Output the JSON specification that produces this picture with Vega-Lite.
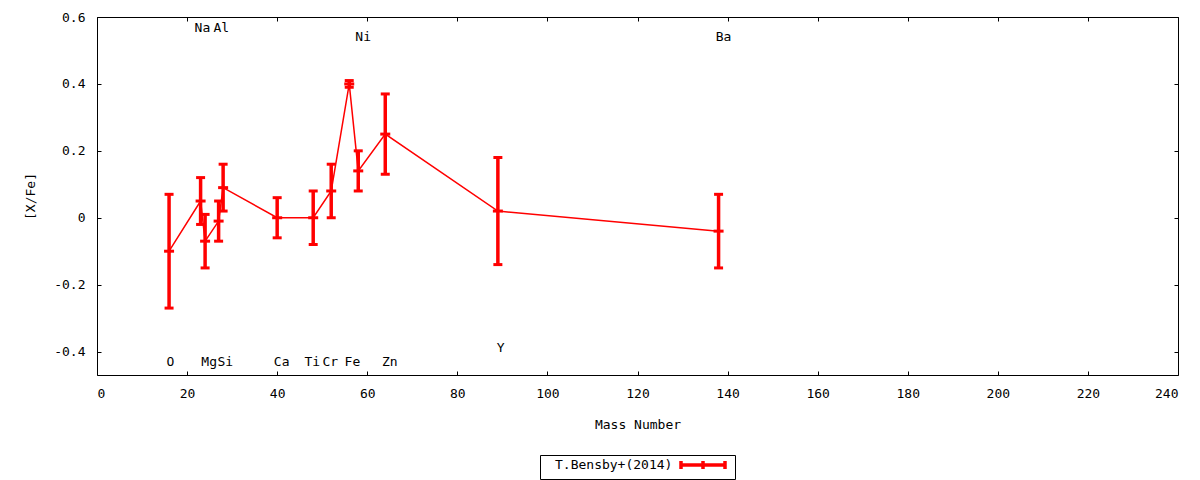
{
  "$schema": "https://vega.github.io/schema/vega-lite/v6.json",
  "width": 1081,
  "height": 358,
  "autosize": {"type": "none"},
  "padding": {"left": 97, "top": 17, "right": 22, "bottom": 105},
  "background": "white",
  "config": {
    "font": "DejaVu Sans Mono",
    "view": {"stroke": "black", "strokeWidth": 1},
    "axis": {
      "labelFont": "DejaVu Sans Mono",
      "labelFontSize": 13,
      "labelColor": "black",
      "titleFont": "DejaVu Sans Mono",
      "titleFontSize": 13,
      "titleFontWeight": "normal",
      "titleColor": "black",
      "grid": false,
      "domain": false,
      "tickColor": "black",
      "tickWidth": 1,
      "tickSize": -4,
      "labelPadding": 16
    },
    "legend": {
      "labelFont": "DejaVu Sans Mono",
      "labelFontSize": 13,
      "labelColor": "black"
    }
  },
  "datasets": {
    "abund": [
      {"element": "O", "mass": 16, "xfe": -0.10, "lo": -0.27, "hi": 0.07},
      {"element": "Na", "mass": 23, "xfe": 0.05, "lo": -0.02, "hi": 0.12},
      {"element": "Mg", "mass": 24, "xfe": -0.07, "lo": -0.15, "hi": 0.01},
      {"element": "Al", "mass": 27, "xfe": -0.01, "lo": -0.07, "hi": 0.05},
      {"element": "Si", "mass": 28, "xfe": 0.09, "lo": 0.02, "hi": 0.16},
      {"element": "Ca", "mass": 40, "xfe": 0.00, "lo": -0.06, "hi": 0.06},
      {"element": "Ti", "mass": 48, "xfe": 0.00, "lo": -0.08, "hi": 0.08},
      {"element": "Cr", "mass": 52, "xfe": 0.08, "lo": 0.00, "hi": 0.16},
      {"element": "Fe", "mass": 56, "xfe": 0.40, "lo": 0.39, "hi": 0.41},
      {"element": "Ni", "mass": 58, "xfe": 0.14, "lo": 0.08, "hi": 0.20},
      {"element": "Zn", "mass": 64, "xfe": 0.25, "lo": 0.13, "hi": 0.37},
      {"element": "Y", "mass": 89, "xfe": 0.02, "lo": -0.14, "hi": 0.18},
      {"element": "Ba", "mass": 138, "xfe": -0.04, "lo": -0.15, "hi": 0.07}
    ],
    "labels": [
      {"element": "O", "lx": 16.3, "ly": -0.432},
      {"element": "Na", "lx": 23.4, "ly": 0.567},
      {"element": "Mg", "lx": 24.9, "ly": -0.432},
      {"element": "Al", "lx": 27.6, "ly": 0.567},
      {"element": "Si", "lx": 28.5, "ly": -0.432},
      {"element": "Ca", "lx": 41.0, "ly": -0.432},
      {"element": "Ti", "lx": 47.8, "ly": -0.432},
      {"element": "Cr", "lx": 51.8, "ly": -0.432},
      {"element": "Fe", "lx": 56.7, "ly": -0.432},
      {"element": "Ni", "lx": 59.1, "ly": 0.54},
      {"element": "Zn", "lx": 65.0, "ly": -0.432},
      {"element": "Y", "lx": 89.6, "ly": -0.388},
      {"element": "Ba", "lx": 139.1, "ly": 0.54}
    ]
  },
  "resolve": {"axis": {"x": "independent", "y": "independent"}},
  "layer": [
    {
      "data": {"name": "abund"},
      "mark": {"type": "line", "strokeWidth": 1.5},
      "encoding": {
        "x": {
          "field": "mass", "type": "quantitative",
          "scale": {"domain": [0, 240], "nice": false, "zero": false},
          "axis": {"orient": "bottom", "title": "Mass Number", "values": [0,20,40,60,80,100,120,140,160,180,200,220,240], "titlePadding": 18}
        },
        "y": {
          "field": "xfe", "type": "quantitative",
          "scale": {"domain": [-0.47, 0.6], "nice": false, "zero": false},
          "axis": {"orient": "left", "title": "[X/Fe]", "values": [-0.4,-0.2,0,0.2,0.4,0.6], "titlePadding": 16,
            "labelExpr": "datum.value == 0 ? '0' : (datum.value < 0 ? '-' : '') + format(abs(datum.value), '.1f')"}
        },
        "color": {
          "datum": "T.Bensby+(2014)",
          "type": "nominal",
          "scale": {"range": ["#ff0000"]},
          "legend": {
            "title": null,
            "orient": "none",
            "legendX": 443,
            "legendY": 438,
            "strokeColor": "black",
            "fillColor": "white",
            "padding": 3,
            "symbolType": "M-4.4,0H4.4M-4.4,-0.8V0.8M0,-0.8V0.8M4.4,-0.8V0.8",
            "symbolSize": 100,
            "symbolStrokeWidth": 3.5,
            "symbolStrokeColor": "#ff0000",
            "symbolOffset": 153,
            "labelOffset": -155
          }
        }
      }
    },
    {
      "data": {"name": "abund"},
      "mark": {"type": "rule", "strokeWidth": 3.5, "color": "#ff0000"},
      "encoding": {
        "x": {"field": "mass", "type": "quantitative", "axis": null},
        "y": {"field": "lo", "type": "quantitative", "axis": null},
        "y2": {"field": "hi"}
      }
    },
    {
      "data": {"name": "abund"},
      "mark": {"type": "tick", "orient": "horizontal", "size": 9, "thickness": 3, "color": "#ff0000", "opacity": 1},
      "encoding": {
        "x": {"field": "mass", "type": "quantitative", "axis": null},
        "y": {"field": "lo", "type": "quantitative", "axis": null}
      }
    },
    {
      "data": {"name": "abund"},
      "mark": {"type": "tick", "orient": "horizontal", "size": 9, "thickness": 3, "color": "#ff0000", "opacity": 1},
      "encoding": {
        "x": {"field": "mass", "type": "quantitative", "axis": null},
        "y": {"field": "hi", "type": "quantitative", "axis": null}
      }
    },
    {
      "data": {"name": "abund"},
      "mark": {"type": "tick", "orient": "horizontal", "size": 10, "thickness": 3, "color": "#ff0000", "opacity": 1},
      "encoding": {
        "x": {"field": "mass", "type": "quantitative", "axis": null},
        "y": {"field": "xfe", "type": "quantitative", "axis": null}
      }
    },
    {
      "data": {"name": "labels"},
      "mark": {"type": "text", "font": "DejaVu Sans Mono", "fontSize": 13, "color": "black", "align": "center", "baseline": "middle"},
      "encoding": {
        "x": {"field": "lx", "type": "quantitative",
          "axis": {"orient": "top", "labels": false, "title": null, "values": [0,20,40,60,80,100,120,140,160,180,200,220,240]}},
        "y": {"field": "ly", "type": "quantitative",
          "axis": {"orient": "right", "labels": false, "title": null, "values": [-0.4,-0.2,0,0.2,0.4,0.6]}},
        "text": {"field": "element"}
      }
    }
  ]
}
